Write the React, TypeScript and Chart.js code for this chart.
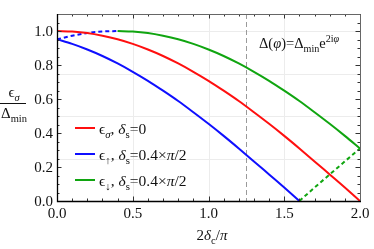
import React, { useEffect, useRef } from 'react';
import { Chart, registerables } from 'chart.js';
Chart.register(...registerables);

const xTicks = [0, 0.5, 1, 1.5, 2];
const xTickLabels = ['0.0', '0.5', '1.0', '1.5', '2.0'];
const yTicks = [0, 0.2, 0.4, 0.6, 0.8, 1.0];
const yTickLabels = ['0.0', '0.2', '0.4', '0.6', '0.8', '1.0'];
const xGrid = [0.5, 1, 1.5];
const yGrid = [0.25, 0.5, 0.75, 1.0];
const markerX = 1.25;

const redX = [0, 0.1, 0.2, 0.3, 0.4, 0.5, 0.6, 0.7, 0.8, 0.9, 1.0, 1.1, 1.2, 1.3, 1.4, 1.5, 1.6, 1.7, 1.8, 1.9, 2.0];
const redY = [1.0, 0.997, 0.988, 0.972, 0.951, 0.924, 0.891, 0.853, 0.809, 0.760, 0.707, 0.649, 0.588, 0.522, 0.454, 0.383, 0.309, 0.233, 0.156, 0.079, 0.0];

const blueX = [0, 0.1, 0.2, 0.3, 0.4, 0.5, 0.6, 0.7, 0.8, 0.9, 1.0, 1.1, 1.2, 1.3, 1.4, 1.5, 1.6];
const blueY = [0.951, 0.924, 0.891, 0.853, 0.809, 0.760, 0.707, 0.649, 0.588, 0.522, 0.454, 0.383, 0.309, 0.233, 0.156, 0.079, 0.0];

const blueDashX = [0, 0.1, 0.2, 0.3, 0.4];
const blueDashY = [0.951, 0.972, 0.988, 0.997, 1.0];

const greenX = [0.4, 0.5, 0.6, 0.7, 0.8, 0.9, 1.0, 1.1, 1.2, 1.3, 1.4, 1.5, 1.6, 1.7, 1.8, 1.9, 2.0];
const greenY = [1.0, 0.997, 0.988, 0.972, 0.951, 0.924, 0.891, 0.853, 0.809, 0.760, 0.707, 0.649, 0.588, 0.522, 0.454, 0.383, 0.309];

const greenDashX = [1.6, 1.7, 1.8, 1.9, 2.0];
const greenDashY = [0.0, 0.079, 0.156, 0.233, 0.309];

const RED = '#ff0f0f';
const BLUE = '#0f0fff';
const GREEN = '#10a510';
const FONT = "'Liberation Serif', 'DejaVu Serif', serif";

type Seg = { t: string; i?: boolean; sub?: boolean; sup?: boolean };

function fontFor(s: Seg, size: number) {
  const sz = s.sub || s.sup ? size * 0.7 : size;
  return `${s.i ? 'italic ' : ''}${sz}px ${FONT}`;
}

function richWidth(ctx: CanvasRenderingContext2D, segs: Seg[], size: number) {
  let w = 0;
  for (const s of segs) {
    ctx.font = fontFor(s, size);
    w += ctx.measureText(s.t).width;
  }
  return w;
}

function drawRich(ctx: CanvasRenderingContext2D, x: number, y: number, segs: Seg[], size: number, align: 'left' | 'center' = 'left') {
  let cx = align === 'center' ? x - richWidth(ctx, segs, size) / 2 : x;
  ctx.save();
  ctx.textAlign = 'left';
  ctx.textBaseline = 'alphabetic';
  ctx.fillStyle = '#111';
  for (const s of segs) {
    ctx.font = fontFor(s, size);
    const dy = s.sub ? size * 0.28 : s.sup ? -size * 0.42 : 0;
    ctx.fillText(s.t, cx, y + dy);
    cx += ctx.measureText(s.t).width;
  }
  ctx.restore();
}

const toPts = (xs: number[], ys: number[]) => xs.map((x, i) => ({ x, y: ys[i] }));

const framePlugin = {
  id: 'frame',
  beforeDatasetsDraw(chart: any) {
    const { ctx, chartArea: a, scales } = chart;
    const xs = scales.x, ys = scales.y;
    ctx.save();
    ctx.strokeStyle = '#ececec';
    ctx.lineWidth = 1;
    for (const g of xGrid) {
      const px = Math.round(xs.getPixelForValue(g)) + 0.5;
      ctx.beginPath(); ctx.moveTo(px, a.top); ctx.lineTo(px, a.bottom); ctx.stroke();
    }
    for (const g of yGrid) {
      const py = Math.round(ys.getPixelForValue(g)) + 0.5;
      ctx.beginPath(); ctx.moveTo(a.left, py); ctx.lineTo(a.right, py); ctx.stroke();
    }
    ctx.strokeStyle = '#9a9a9a';
    ctx.setLineDash([5, 3]);
    const mx = Math.round(xs.getPixelForValue(markerX)) + 0.5;
    ctx.beginPath(); ctx.moveTo(mx, a.top); ctx.lineTo(mx, a.bottom); ctx.stroke();
    ctx.restore();
  },
  afterDatasetsDraw(chart: any) {
    const { ctx, chartArea: a, scales } = chart;
    const xs = scales.x, ys = scales.y;
    ctx.save();
    // ticks
    ctx.lineWidth = 1;
    ctx.strokeStyle = '#333';
    for (let k = 0; k <= 20; k++) {
      const v = k / 10;
      const px = Math.round(xs.getPixelForValue(v)) + 0.5;
      const len = k % 5 === 0 ? 4.5 : 2.5;
      ctx.beginPath(); ctx.moveTo(px, a.bottom); ctx.lineTo(px, a.bottom - len); ctx.stroke();
      ctx.beginPath(); ctx.moveTo(px, a.top); ctx.lineTo(px, a.top + len); ctx.stroke();
    }
    for (let k = 0; k <= 22; k++) {
      const v = k / 20;
      const py = Math.round(ys.getPixelForValue(v)) + 0.5;
      const len = k % 4 === 0 ? 4.5 : 2.5;
      ctx.beginPath(); ctx.moveTo(a.left, py); ctx.lineTo(a.left + len, py); ctx.stroke();
      ctx.beginPath(); ctx.moveTo(a.right, py); ctx.lineTo(a.right - len, py); ctx.stroke();
    }
    // frame
    ctx.strokeStyle = '#666';
    ctx.beginPath();
    ctx.moveTo(a.left, a.top + 0.5); ctx.lineTo(a.right + 0.5, a.top + 0.5); ctx.lineTo(a.right + 0.5, a.bottom);
    ctx.stroke();
    ctx.strokeStyle = '#000';
    ctx.lineWidth = 1.3;
    ctx.beginPath();
    ctx.moveTo(a.left + 0.5, a.top); ctx.lineTo(a.left + 0.5, a.bottom + 0.5); ctx.lineTo(a.right + 1, a.bottom + 0.5);
    ctx.stroke();

    // tick labels
    ctx.fillStyle = '#111';
    ctx.font = `15px ${FONT}`;
    ctx.textAlign = 'center';
    ctx.textBaseline = 'alphabetic';
    xTicks.forEach((v, i) => {
      ctx.fillText(xTickLabels[i], xs.getPixelForValue(v), a.bottom + 17);
    });
    ctx.textAlign = 'right';
    yTicks.forEach((v, i) => {
      ctx.fillText(yTickLabels[i], a.left - 4, ys.getPixelForValue(v) + 5);
    });

    // axis titles
    drawRich(ctx, 212, 240, [{ t: '2' }, { t: 'δ', i: true }, { t: 'c', sub: true }, { t: '/' }, { t: 'π', i: true }], 15, 'center');
    drawRich(ctx, 14, 97, [{ t: 'ϵ' }, { t: 'σ', i: true, sub: true }], 15, 'center');
    ctx.strokeStyle = '#111';
    ctx.lineWidth = 1;
    ctx.beginPath(); ctx.moveTo(0, 103.5); ctx.lineTo(26, 103.5); ctx.stroke();
    drawRich(ctx, 14, 118, [{ t: 'Δ' }, { t: 'min', sub: true }], 15, 'center');

    // annotation
    drawRich(ctx, 259, 48, [
      { t: 'Δ(' }, { t: 'φ', i: true }, { t: ')=Δ' }, { t: 'min', sub: true }, { t: 'e' },
      { t: '2i', sup: true }, { t: 'φ', i: true, sup: true },
    ], 14.5);

    // legend
    const rows: { c: string; segs: Seg[]; y: number }[] = [
      { c: RED, y: 128, segs: [{ t: 'ϵ' }, { t: 'σ', i: true, sub: true }, { t: ', ' }, { t: 'δ', i: true }, { t: 's', sub: true }, { t: '=0' }] },
      { c: BLUE, y: 154, segs: [{ t: 'ϵ' }, { t: '↑', sub: true }, { t: ', ' }, { t: 'δ', i: true }, { t: 's', sub: true }, { t: '=0.4×' }, { t: 'π', i: true }, { t: '/2' }] },
      { c: GREEN, y: 180, segs: [{ t: 'ϵ' }, { t: '↓', sub: true }, { t: ', ' }, { t: 'δ', i: true }, { t: 's', sub: true }, { t: '=0.4×' }, { t: 'π', i: true }, { t: '/2' }] },
    ];
    for (const r of rows) {
      ctx.strokeStyle = r.c;
      ctx.lineWidth = 2;
      ctx.setLineDash([]);
      ctx.beginPath(); ctx.moveTo(75, r.y); ctx.lineTo(95, r.y); ctx.stroke();
      drawRich(ctx, 99, r.y + 5.5, r.segs, 15.5);
    }
    ctx.restore();
  },
};

export default function App() {
  const ref = useRef<HTMLCanvasElement>(null);
  useEffect(() => {
    if (!ref.current) return;
    const line = (data: any[], color: string, dashed: boolean) => ({
      data,
      borderColor: color,
      borderWidth: 2,
      pointRadius: 0,
      fill: false,
      cubicInterpolationMode: 'monotone' as const,
      borderDash: dashed ? [4, 3] : [],
    });
    const chart = new Chart(ref.current, {
      type: 'line',
      data: {
        datasets: [
          line(toPts(redX, redY), RED, false),
          line(toPts(blueX, blueY), BLUE, false),
          line(toPts(greenX, greenY), GREEN, false),
          line(toPts(blueDashX, blueDashY), BLUE, true),
          line(toPts(greenDashX, greenDashY), GREEN, true),
        ],
      },
      options: {
        animation: false,
        responsive: false,
        layout: { padding: { left: 57, top: 14, right: 14, bottom: 48 } },
        plugins: { legend: { display: false }, tooltip: { enabled: false } },
        scales: {
          x: { type: 'linear', min: 0, max: 2, display: false },
          y: { type: 'linear', min: 0, max: 1.1, display: false },
        },
      },
      plugins: [framePlugin],
    });
    return () => chart.destroy();
  }, []);
  return (
    <div style={{ position: 'fixed', left: 0, top: 0, width: 374, height: 249, background: '#fff' }}>
      <canvas ref={ref} width={374} height={249} />
    </div>
  );
}
